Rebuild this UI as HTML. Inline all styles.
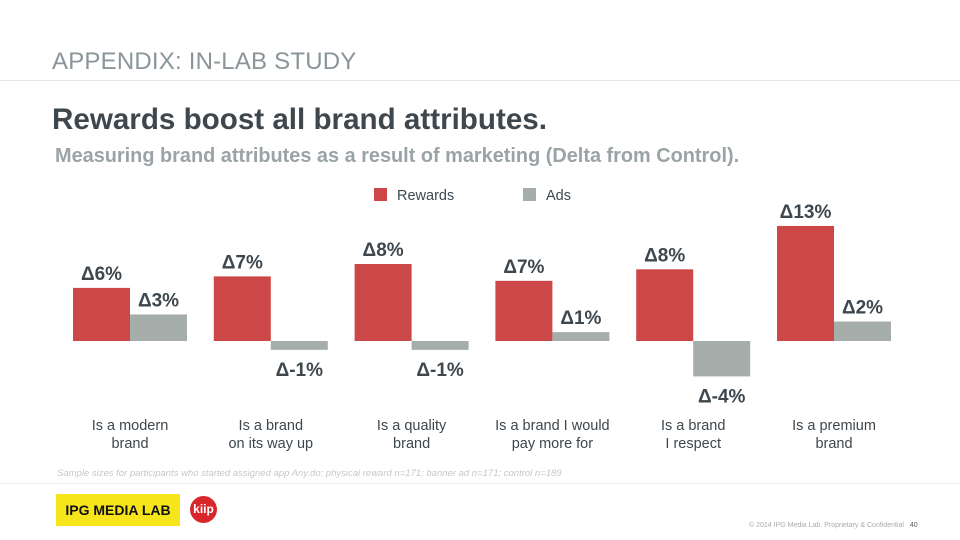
<!DOCTYPE html>
<html><head><meta charset="utf-8"><style>
body{margin:0;width:960px;height:540px;background:#fff;font-family:"Liberation Sans",sans-serif;position:relative;overflow:hidden}
.abs{position:absolute}
</style></head><body>
<div class="abs" style="left:52px;top:48px;font-size:24px;color:#8a9499;letter-spacing:0.2px">APPENDIX: IN-LAB STUDY</div>
<div class="abs" style="left:0;top:80px;width:960px;height:1px;background:#e6e6e6"></div>
<div class="abs" style="left:52px;top:103px;font-size:29.6px;font-weight:bold;color:#3d474d">Rewards boost all brand attributes.</div>
<div class="abs" style="left:55px;top:145px;font-size:19.9px;font-weight:bold;color:#9aa3a6">Measuring brand attributes as a result of marketing (Delta from Control).</div>
<svg class="abs" style="left:0;top:0" width="960" height="540" id="chart"></svg>
<div class="abs" style="left:57px;top:468px;font-size:9.5px;font-style:italic;color:#c4c8ca">Sample sizes for participants who started assigned app Any.do: physical reward n=171; banner ad n=171; control n=189</div>
<div class="abs" style="left:0;top:483px;width:960px;height:1px;background:#ececec"></div>
<div class="abs" style="left:56px;top:494px;width:124px;height:32px;background:#f7e51c;font-size:14px;font-weight:bold;color:#111;line-height:32px;text-align:center">IPG MEDIA LAB</div>
<div class="abs" style="left:190px;top:496px;width:27px;height:27px;border-radius:50%;background:#d9262a;color:#fff;font-size:12px;font-weight:bold;line-height:26px;text-align:center">kiip</div>
<div class="abs" style="left:749px;top:522px;font-size:7px;color:#aaa">© 2014 IPG Media Lab. Proprietary &amp; Confidential &nbsp;&nbsp;<span style="color:#555">40</span></div>
<script>
const categories=["Is a modern\nbrand","Is a brand\non its way up","Is a quality\nbrand","Is a brand I would\npay more for","Is a brand\nI respect","Is a premium\nbrand"];
const rewards=[6,7.3,8.7,6.8,8.1,13];
const ads=[3,-1,-1,1,-4,2.2];
const rewardLabels=["Δ6%","Δ7%","Δ8%","Δ7%","Δ8%","Δ13%"];
const adLabels=["Δ3%","Δ-1%","Δ-1%","Δ1%","Δ-4%","Δ2%"];
const seriesNames=["Rewards","Ads"];
const svg=document.getElementById('chart');
const NS='http://www.w3.org/2000/svg';
const base=341,unit=8.85,x0=73,step=140.8,bw=57;
const y=v=>base-v*unit;
const colors=["#cc4748","#a5aeab"];
function mk(t,a,txt){const e=document.createElementNS(NS,t);for(const k in a)e.setAttribute(k,a[k]);if(txt!==undefined)e.textContent=txt;svg.appendChild(e);return e;}
[rewards,ads].forEach((s,si)=>{s.forEach((v,i)=>{
 const x=x0+i*step+si*bw;
 const r=mk('rect',{x:x,y:Math.min(y(v),base),width:bw,height:Math.abs(v)*unit,fill:colors[si]});
 
 
 const ty=v>=0?y(v)-8:y(v)+26;
 const lab=(si?adLabels:rewardLabels)[i];
 const t=mk('text',{x:x+bw/2,y:ty,'text-anchor':'middle','font-size':19,'font-weight':'bold',fill:'#3d474d','font-family':'Liberation Sans, DejaVu Sans, sans-serif'},lab);
 
 
});});
categories.forEach((c,i)=>{
 const lines=c.split('\n');
 lines.forEach((l,j)=>{
  const t=mk('text',{x:x0+i*step+bw,y:430+j*18,'text-anchor':'middle','font-size':14.5,fill:'#3d474d','font-family':'Liberation Sans, sans-serif'},l);
  
  
 });
});
seriesNames.forEach((n,i)=>{
 const lx=374+i*149;
 const r=mk('rect',{x:lx,y:188,width:13,height:13,fill:colors[i]});
 
 
 const t=mk('text',{x:lx+23,y:200,'font-size':14.5,fill:'#3d474d','font-family':'Liberation Sans, sans-serif'},n);
 
 
});
</script>
</body></html>
